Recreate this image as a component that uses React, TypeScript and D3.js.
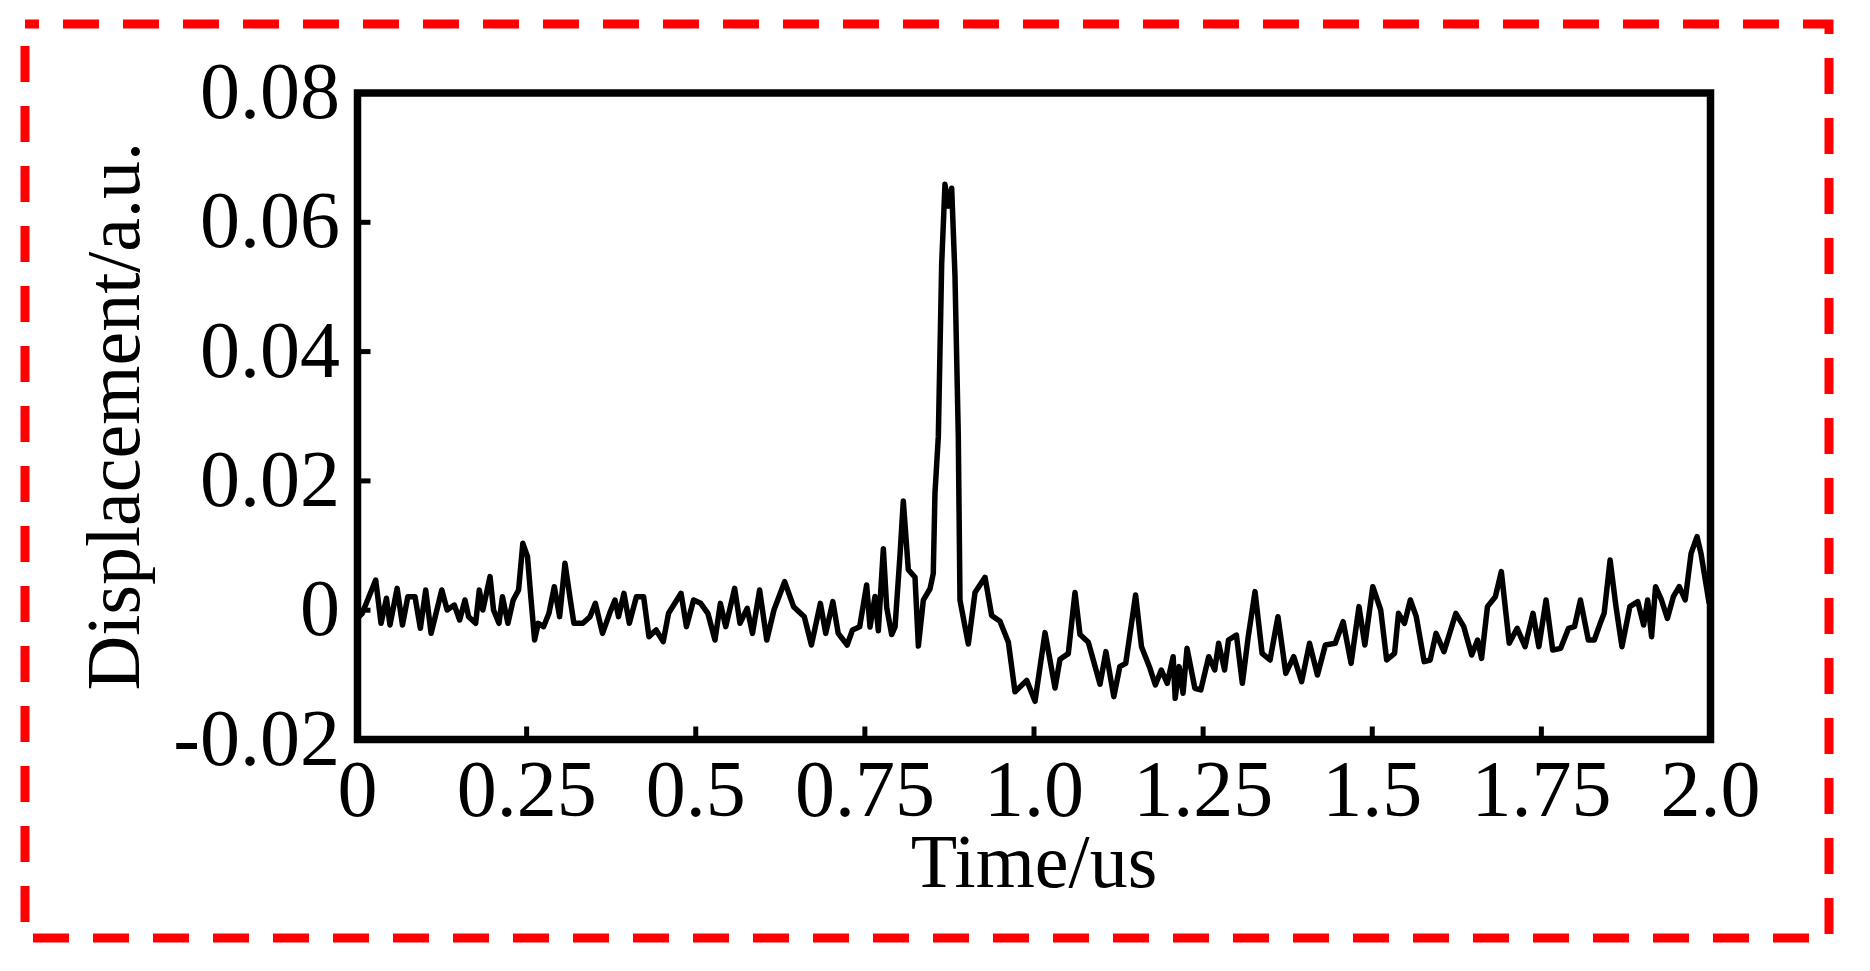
import React from 'react'
import * as d3 from 'd3'

// time axis (us) and displacement (a.u.)
const time = [
  0.0, 0.0069, 0.0269, 0.0348, 0.0428, 0.048, 0.0586, 0.0665, 0.0744, 0.085,
  0.0929, 0.1008, 0.1088, 0.1246, 0.1325, 0.1431, 0.151, 0.1589, 0.1642, 0.1747,
  0.18, 0.1853, 0.1959, 0.2011, 0.2091, 0.2143, 0.2223, 0.2302, 0.2381, 0.2444,
  0.2513, 0.2566, 0.2618, 0.2671, 0.275, 0.283, 0.2909, 0.2988, 0.3067, 0.3146,
  0.3199, 0.3331, 0.3437, 0.3516, 0.3622, 0.3727, 0.3806, 0.3859, 0.3938, 0.4018,
  0.4123, 0.4229, 0.4308, 0.4414, 0.4519, 0.4598, 0.4783, 0.4862, 0.4968, 0.5073,
  0.5179, 0.5284, 0.5364, 0.5443, 0.5575, 0.5654, 0.576, 0.5839, 0.5944, 0.605,
  0.6156, 0.6314, 0.6446, 0.6604, 0.671, 0.6842, 0.6921, 0.7027, 0.7106, 0.7238,
  0.7317, 0.7423,
  0.7526, 0.7576, 0.765, 0.7699, 0.7773, 0.7823, 0.7896, 0.7946, 0.802, 0.8068,
  0.8142, 0.8241, 0.8291, 0.8364, 0.8463, 0.8511, 0.8536, 0.8586, 0.8635, 0.8684,
  0.8733, 0.8783, 0.8832, 0.8881, 0.8906, 0.9029, 0.9128, 0.9276, 0.9374, 0.9497,
  0.9621, 0.9719, 0.9892, 1.0015, 1.0163, 1.0311, 1.0384, 1.0507, 1.0606, 1.068,
  1.0803, 1.0976,
  1.1063, 1.118, 1.1268, 1.1356, 1.1502, 1.1589, 1.1706, 1.1794, 1.1882, 1.197,
  1.2057, 1.2087, 1.2145, 1.2203, 1.2262, 1.2378, 1.2466, 1.2583, 1.2671, 1.2729,
  1.2817, 1.2875, 1.2992, 1.308, 1.3167, 1.3267, 1.3372, 1.3489, 1.3606, 1.3722,
  1.3839, 1.3956, 1.4073, 1.419, 1.4307, 1.4453, 1.457, 1.4687, 1.4804, 1.4891,
  1.5008, 1.5125, 1.5213, 1.533, 1.5388, 1.5476, 1.5563, 1.5651, 1.5768, 1.5856,
  1.5943, 1.606, 1.6236, 1.6353, 1.647, 1.6557, 1.6616, 1.6703, 1.682, 1.6908,
  1.7025, 1.7142, 1.7259, 1.7376, 1.7463, 1.7569, 1.7668, 1.7785, 1.7902, 1.799,
  1.8077, 1.8194, 1.8282, 1.837, 1.8428, 1.8516, 1.8603, 1.8691, 1.8808, 1.8925,
  1.9012, 1.9071, 1.9129, 1.9188, 1.9275, 1.9363, 1.9451, 1.9538, 1.9626, 1.9713,
  1.9801, 1.9859, 1.998,
]

const displacement = [
  -0.0012, -0.0005, 0.00467, -0.00203, 0.00184, -0.00229, 0.00338, -0.00229, 0.00209, 0.00209,
  -0.0028, 0.00312, -0.00358, 0.00312, 0.00003, 0.0008, -0.00152, 0.00158, -0.001, -0.00203,
  0.00312, 0.00003, 0.00519, 0.00003, -0.00203, 0.00209, -0.00203, 0.00158, 0.00312, 0.01034,
  0.00828, 0.00158, -0.00461, -0.00203, -0.00255, -0.00048, 0.00364, -0.001, 0.00725, 0.00158,
  -0.00203, -0.00203, -0.001, 0.00106, -0.00358, -0.00048, 0.00158, -0.001, 0.00261, -0.00203,
  0.00209, 0.00209, -0.0041, -0.00306, -0.00487, -0.00048, 0.00261, -0.00255, 0.00158, 0.00106,
  -0.00048, -0.00461, 0.00106, -0.00255, 0.00338, -0.00203, 0.00029, -0.00358, 0.00312, -0.00461,
  0.00003, 0.00441, 0.00055, -0.001, -0.00538, 0.00106, -0.00358, 0.00132, -0.00358, -0.00538,
  -0.00306, -0.00255,
  0.00391, -0.00259, 0.00213, -0.00318, 0.00951, 0.00037, -0.00377, -0.00259, 0.00863, 0.01689,
  0.00627, 0.00509, -0.00554, 0.00155, 0.00332, 0.00568, 0.01807, 0.02692, 0.05348, 0.06587,
  0.0625, 0.06528, 0.05171, 0.02692, 0.00155, -0.00524, 0.00273, 0.00509, -0.00082, -0.0017,
  -0.00495, -0.01262, -0.01085, -0.01409, -0.00347, -0.01203, -0.0076, -0.00672, 0.00273, -0.00377,
  -0.00495, -0.01144,
  -0.00641, -0.01337, -0.00873, -0.00822, 0.00235, -0.00564, -0.00873, -0.01157, -0.00925, -0.01131,
  -0.00719, -0.01363, -0.00873, -0.01286, -0.0059, -0.01208, -0.01234, -0.00719, -0.00925, -0.00512,
  -0.00925, -0.00461, -0.00384, -0.01131, -0.0041, 0.00287, -0.00667, -0.0077, -0.001, -0.00977,
  -0.00719, -0.01106, -0.00512, -0.01002, -0.00538, -0.00512, -0.00178, -0.00822, 0.00055, -0.00538,
  0.00364, 0.00003, -0.0077, -0.00667, -0.00048, -0.00203, 0.00158, -0.001, -0.00796, -0.0077,
  -0.00358, -0.00641, -0.00048, -0.00255, -0.00693, -0.00461, -0.00745, 0.00055, 0.00209, 0.00596,
  -0.00512, -0.0028, -0.00564, -0.00048, -0.00564, 0.00158, -0.00616, -0.0059, -0.0028, -0.00255,
  0.00158, -0.00461, -0.00461, -0.00203, -0.00048, 0.00776, 0.00055, -0.00564, 0.00055, 0.00132,
  -0.00229, 0.00158, -0.0041, 0.00364, 0.00158, -0.00126, 0.00209, 0.00364, 0.00158, 0.0088,
  0.01137, 0.0088, 0.00106,
]

const xTicks = [0, 0.25, 0.5, 0.75, 1.0, 1.25, 1.5, 1.75, 2.0]
const xTickLabels = ['0', '0.25', '0.5', '0.75', '1.0', '1.25', '1.5', '1.75', '2.0']
const yTicks = [-0.02, 0, 0.02, 0.04, 0.06, 0.08]
const yTickLabels = ['-0.02', '0', '0.02', '0.04', '0.06', '0.08']

const W = 1870
const H = 971
const FONT = '"Liberation Serif", "Times New Roman", Times, serif'

export default function App() {
  const left = 357.5
  const right = 1710.5
  const top = 93
  const bottom = 739.5

  const x = d3.scaleLinear().domain([0, 2]).range([left, right])
  const y = d3.scaleLinear().domain([-0.02, 0.08]).range([bottom, top])

  const pts: [number, number][] = time.map((t, i) => [t, displacement[i]])
  const line = d3
    .line<[number, number]>()
    .x(d => x(d[0]))
    .y(d => y(d[1]))

  const tickLen = 13

  return (
    <svg
      width={W}
      height={H}
      style={{ position: 'absolute', left: 0, top: 0, background: '#fff' }}
      fontFamily={FONT}
    >
      <rect x={0} y={0} width={W} height={H} fill="#fff" />

      {/* red dashed outline */}
      <rect
        x={25}
        y={24}
        width={1804}
        height={914}
        fill="none"
        stroke="#ff0000"
        strokeWidth={9}
        strokeDasharray="36 24"
        strokeDashoffset={22}
      />

      {/* signal */}
      <path d={line(pts) || ''} fill="none" stroke="#000" strokeWidth={5.5} strokeLinejoin="round" />

      {/* ticks */}
      {xTicks.slice(1, -1).map(t => (
        <line key={'xt' + t} x1={x(t)} x2={x(t)} y1={bottom} y2={bottom - tickLen} stroke="#000" strokeWidth={5} />
      ))}
      {yTicks.slice(1, -1).map(t => (
        <line key={'yt' + t} x1={left} x2={left + tickLen} y1={y(t)} y2={y(t)} stroke="#000" strokeWidth={5} />
      ))}

      {/* frame */}
      <rect x={left} y={top} width={right - left} height={bottom - top} fill="none" stroke="#000" strokeWidth={7.5} />

      {/* tick labels */}
      {xTicks.map((t, i) => (
        <text key={'xl' + t} x={x(t)} y={816} fontSize={80} textAnchor="middle" fill="#000">
          {xTickLabels[i]}
        </text>
      ))}
      {yTicks.map((t, i) => (
        <text key={'yl' + t} x={340} y={y(t) + 25} fontSize={80} textAnchor="end" fill="#000">
          {yTickLabels[i]}
        </text>
      ))}

      {/* axis titles */}
      <text x={(left + right) / 2} y={887} fontSize={76} textAnchor="middle" fill="#000">
        Time/us
      </text>
      <text
        transform={`translate(139, ${(top + bottom) / 2}) rotate(-90)`}
        fontSize={76}
        textAnchor="middle"
        fill="#000"
      >
        Displacement/a.u.
      </text>
    </svg>
  )
}
